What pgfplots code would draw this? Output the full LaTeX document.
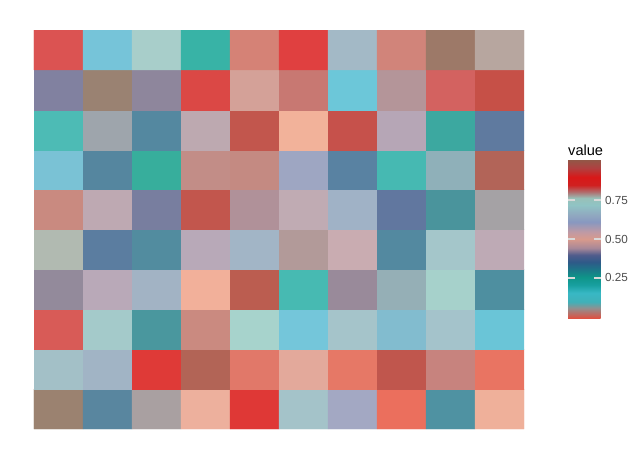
\documentclass[border=0pt]{standalone}
\usepackage{fontspec}
\setmainfont{Liberation Sans}
\usepackage{pgfplots}
\pgfplotsset{compat=1.18}
\definecolor{gray30}{HTML}{4D4D4D}
\definecolor{tickgray}{HTML}{D9D9D9}
% cell colours: row a is the top row, columns 1..10 left to right
\definecolor{a1}{HTML}{DB5352}\definecolor{a2}{HTML}{76C4D9}\definecolor{a3}{HTML}{A8CECA}\definecolor{a4}{HTML}{38B3A6}\definecolor{a5}{HTML}{D58276}\definecolor{a6}{HTML}{E04040}\definecolor{a7}{HTML}{A3B9C6}\definecolor{a8}{HTML}{D1847A}\definecolor{a9}{HTML}{9D7968}\definecolor{a10}{HTML}{B7A69F}
\definecolor{b1}{HTML}{8181A0}\definecolor{b2}{HTML}{9A8272}\definecolor{b3}{HTML}{8E869C}\definecolor{b4}{HTML}{DB4845}\definecolor{b5}{HTML}{D4A198}\definecolor{b6}{HTML}{C87872}\definecolor{b7}{HTML}{6CC7D9}\definecolor{b8}{HTML}{B49599}\definecolor{b9}{HTML}{D36260}\definecolor{b10}{HTML}{C65047}
\definecolor{c1}{HTML}{4DBBB5}\definecolor{c2}{HTML}{9EA5AC}\definecolor{c3}{HTML}{5488A0}\definecolor{c4}{HTML}{BDA9B0}\definecolor{c5}{HTML}{C2564D}\definecolor{c6}{HTML}{F2B29A}\definecolor{c7}{HTML}{C6514B}\definecolor{c8}{HTML}{B6A6B6}\definecolor{c9}{HTML}{3CA8A0}\definecolor{c10}{HTML}{5F7A9F}
\definecolor{d1}{HTML}{7AC2D5}\definecolor{d2}{HTML}{55869F}\definecolor{d3}{HTML}{37AE9C}\definecolor{d4}{HTML}{C28D87}\definecolor{d5}{HTML}{C48A82}\definecolor{d6}{HTML}{9EA6C2}\definecolor{d7}{HTML}{5982A2}\definecolor{d8}{HTML}{46B9B2}\definecolor{d9}{HTML}{8FB0B9}\definecolor{d10}{HTML}{B26458}
\definecolor{e1}{HTML}{C98A80}\definecolor{e2}{HTML}{BEA9B2}\definecolor{e3}{HTML}{787E9F}\definecolor{e4}{HTML}{C2564D}\definecolor{e5}{HTML}{B09199}\definecolor{e6}{HTML}{C0ABB3}\definecolor{e7}{HTML}{A0B2C6}\definecolor{e8}{HTML}{61779F}\definecolor{e9}{HTML}{4A949C}\definecolor{e10}{HTML}{A5A2A5}
\definecolor{f1}{HTML}{B1BAB1}\definecolor{f2}{HTML}{5B7DA0}\definecolor{f3}{HTML}{528C9F}\definecolor{f4}{HTML}{B8A9B8}\definecolor{f5}{HTML}{A2B5C6}\definecolor{f6}{HTML}{B29A99}\definecolor{f7}{HTML}{C9ACB1}\definecolor{f8}{HTML}{5389A0}\definecolor{f9}{HTML}{A4C6CA}\definecolor{f10}{HTML}{BEAAB5}
\definecolor{g1}{HTML}{938A9B}\definecolor{g2}{HTML}{B9A9B8}\definecolor{g3}{HTML}{A2B3C4}\definecolor{g4}{HTML}{F2B09A}\definecolor{g5}{HTML}{BB5D50}\definecolor{g6}{HTML}{47BAB2}\definecolor{g7}{HTML}{998A9A}\definecolor{g8}{HTML}{95AFB6}\definecolor{g9}{HTML}{A6D1CB}\definecolor{g10}{HTML}{4E8FA0}
\definecolor{h1}{HTML}{D85B57}\definecolor{h2}{HTML}{A4CACA}\definecolor{h3}{HTML}{4A979E}\definecolor{h4}{HTML}{CA8A80}\definecolor{h5}{HTML}{A7D3CC}\definecolor{h6}{HTML}{74C6DA}\definecolor{h7}{HTML}{A5C4CA}\definecolor{h8}{HTML}{82BCCF}\definecolor{h9}{HTML}{A4C3CB}\definecolor{h10}{HTML}{6AC5D7}
\definecolor{i1}{HTML}{A3C0C7}\definecolor{i2}{HTML}{A1B4C5}\definecolor{i3}{HTML}{DF3A37}\definecolor{i4}{HTML}{B26456}\definecolor{i5}{HTML}{E17869}\definecolor{i6}{HTML}{E3A99B}\definecolor{i7}{HTML}{E67866}\definecolor{i8}{HTML}{C0564D}\definecolor{i9}{HTML}{C7837E}\definecolor{i10}{HTML}{E97462}
\definecolor{j1}{HTML}{9B8270}\definecolor{j2}{HTML}{59869F}\definecolor{j3}{HTML}{A9A0A1}\definecolor{j4}{HTML}{EDB09D}\definecolor{j5}{HTML}{DF3836}\definecolor{j6}{HTML}{A4C3C9}\definecolor{j7}{HTML}{A3A8C3}\definecolor{j8}{HTML}{EB6F5D}\definecolor{j9}{HTML}{4F92A2}\definecolor{j10}{HTML}{EFB09A}

% legend colour scale, positions = (value + 0.012) * 1000
\pgfplotsset{colormap={ggmap}{
  rgb255(0pt)=(224,80,64)
  rgb255(66pt)=(144,144,144)
  rgb255(105pt)=(64,176,184)
  rgb255(164pt)=(56,184,196)
  rgb255(215pt)=(24,160,160)
  rgb255(267pt)=(14,148,136)
  rgb255(325pt)=(32,112,136)
  rgb255(363pt)=(46,90,136)
  rgb255(409pt)=(80,92,140)
  rgb255(454pt)=(168,136,152)
  rgb255(512pt)=(216,154,140)
  rgb255(557pt)=(192,154,164)
  rgb255(622pt)=(136,152,192)
  rgb255(667pt)=(144,168,192)
  rgb255(732pt)=(144,196,196)
  rgb255(777pt)=(152,192,184)
  rgb255(815pt)=(176,112,112)
  rgb255(861pt)=(208,32,32)
  rgb255(912pt)=(216,24,24)
  rgb255(971pt)=(176,64,64)
  rgb255(1029pt)=(143,90,72)
}}

\begin{document}
\begin{tikzpicture}
\path[use as bounding box] (0,0) rectangle (638pt,459pt);
\begin{axis}[
    at={(34pt,30pt)}, anchor=south west,
    scale only axis, width=490pt, height=399pt,
    xmin=0.5, xmax=10.5, ymin=0.5, ymax=10.5,
    hide axis,
]
\addplot[matrix plot*, mesh/cols=10, mesh/rows=10,
    mesh/color input=explicit, point meta=explicit symbolic]
    table[meta=c] {
x y c
1 1 color=j1
2 1 color=j2
3 1 color=j3
4 1 color=j4
5 1 color=j5
6 1 color=j6
7 1 color=j7
8 1 color=j8
9 1 color=j9
10 1 color=j10
1 2 color=i1
2 2 color=i2
3 2 color=i3
4 2 color=i4
5 2 color=i5
6 2 color=i6
7 2 color=i7
8 2 color=i8
9 2 color=i9
10 2 color=i10
1 3 color=h1
2 3 color=h2
3 3 color=h3
4 3 color=h4
5 3 color=h5
6 3 color=h6
7 3 color=h7
8 3 color=h8
9 3 color=h9
10 3 color=h10
1 4 color=g1
2 4 color=g2
3 4 color=g3
4 4 color=g4
5 4 color=g5
6 4 color=g6
7 4 color=g7
8 4 color=g8
9 4 color=g9
10 4 color=g10
1 5 color=f1
2 5 color=f2
3 5 color=f3
4 5 color=f4
5 5 color=f5
6 5 color=f6
7 5 color=f7
8 5 color=f8
9 5 color=f9
10 5 color=f10
1 6 color=e1
2 6 color=e2
3 6 color=e3
4 6 color=e4
5 6 color=e5
6 6 color=e6
7 6 color=e7
8 6 color=e8
9 6 color=e9
10 6 color=e10
1 7 color=d1
2 7 color=d2
3 7 color=d3
4 7 color=d4
5 7 color=d5
6 7 color=d6
7 7 color=d7
8 7 color=d8
9 7 color=d9
10 7 color=d10
1 8 color=c1
2 8 color=c2
3 8 color=c3
4 8 color=c4
5 8 color=c5
6 8 color=c6
7 8 color=c7
8 8 color=c8
9 8 color=c9
10 8 color=c10
1 9 color=b1
2 9 color=b2
3 9 color=b3
4 9 color=b4
5 9 color=b5
6 9 color=b6
7 9 color=b7
8 9 color=b8
9 9 color=b9
10 9 color=b10
1 10 color=a1
2 10 color=a2
3 10 color=a3
4 10 color=a4
5 10 color=a5
6 10 color=a6
7 10 color=a7
8 10 color=a8
9 10 color=a9
10 10 color=a10
};
\end{axis}
% colour bar: shading only (the standalone bar sits 0.3cm right of its at)
\pgfplotscolorbardrawstandalone[
    colormap name=ggmap,
    point meta min=-0.012, point meta max=1.017,
    colorbar/width=32.7pt,
    colorbar style={
        at={(559.5pt,140.7pt)}, anchor=south west,
        scale only axis, height=159.3pt,
        ytick=\empty, axis line style={draw=none},
    }]
% ticks and labels of the colour bar
\begin{axis}[
    at={(568pt,140.7pt)}, anchor=south west,
    scale only axis, width=32.7pt, height=159.3pt,
    xmin=0, xmax=1, ymin=-0.012, ymax=1.017,
    axis line style={draw=none}, xtick=\empty,
    ytick={0.25,0.5,0.75},
    ytick pos=both, yticklabel pos=right, tick align=inside,
    major tick length=6.7pt,
    major tick style={tickgray, line width=2pt},
    /pgf/number format/assume math mode=true,
    /pgf/number format/fixed, /pgf/number format/fixed zerofill,
    /pgf/number format/precision=2,
    yticklabel style={font=\fontsize{11.7}{13}\selectfont, text=gray30,
        inner sep=0pt, anchor=west, xshift=4.3pt},
]
\end{axis}
\node[anchor=base west, inner sep=0pt, font=\fontsize{14.6}{16}\selectfont]
    at (568pt,304pt) {value};
\end{tikzpicture}
\end{document}
